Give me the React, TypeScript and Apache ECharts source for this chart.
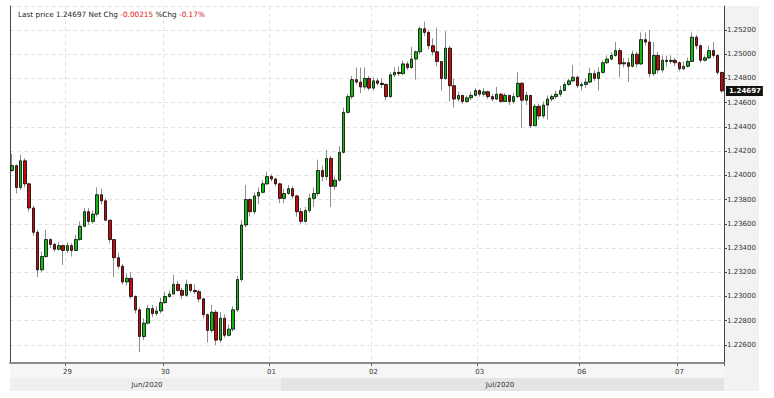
import React, { useEffect, useRef } from "react";
import * as echarts from "echarts";

// sessions: [day label, number of hourly bars]
const sessions: [string, number][] = [
  ["28", 13], ["29", 23], ["30", 25], ["01", 24], ["02", 25], ["03", 24], ["06", 23], ["07", 11],
];

const firstOpen = 1.2404;

const closes = [
  1.2408, 1.2390, 1.2412, 1.2393, 1.2373, 1.2353, 1.2322, 1.2333, 1.2347, 1.2343,
  1.2339, 1.2342, 1.2338, 1.2342, 1.2338, 1.2347, 1.2358, 1.2370, 1.2362, 1.2368,
  1.2384, 1.2379, 1.2363, 1.2347, 1.2332, 1.2325, 1.2312, 1.2315, 1.2300, 1.2289,
  1.2267, 1.2278, 1.2290, 1.2286, 1.2288, 1.2295, 1.2300, 1.2302, 1.2310, 1.2305,
  1.2301, 1.2310, 1.2305, 1.2304, 1.2298, 1.2285, 1.2272, 1.2287, 1.2264, 1.2282,
  1.2268, 1.2273, 1.2289, 1.2314, 1.2359, 1.2380, 1.2370, 1.2383, 1.2386, 1.2393,
  1.2399, 1.2397, 1.2393, 1.2381, 1.2385, 1.2389, 1.2383, 1.2370, 1.2362, 1.2371,
  1.2381, 1.2385, 1.2404, 1.2399, 1.2414, 1.2391, 1.2396, 1.2419, 1.2452, 1.2465,
  1.2479, 1.2477, 1.2473, 1.2480, 1.2472, 1.2478, 1.2476, 1.2475, 1.2465, 1.2483,
  1.2485, 1.2484, 1.2492, 1.2489, 1.2496, 1.2502, 1.2521, 1.2518, 1.2507, 1.2502,
  1.2494, 1.2480, 1.2505, 1.2474, 1.2463, 1.2466, 1.2461, 1.2464, 1.2466, 1.2470,
  1.2467, 1.2469, 1.2465, 1.2463, 1.2467, 1.2461, 1.2466, 1.2461, 1.2465, 1.2476,
  1.2462, 1.2466, 1.2441, 1.2457, 1.2449, 1.2458, 1.2463, 1.2465, 1.2467, 1.2470,
  1.2475, 1.2478, 1.2481, 1.2474, 1.2475, 1.2477, 1.2484, 1.2480, 1.2485, 1.2493,
  1.2496, 1.2499, 1.2503, 1.2492, 1.2493, 1.2490, 1.2500, 1.2492, 1.2512, 1.2510,
  1.2484, 1.2499, 1.2487, 1.2495, 1.2494, 1.2495, 1.2493, 1.2488, 1.2490, 1.2494,
  1.2514, 1.2507, 1.2495, 1.2497, 1.2503, 1.2499, 1.2485, 1.24697,
];

const highs = [
  1.2418, 1.2409, 1.2417, 1.2414, 1.2394, 1.2375, 1.2355, 1.2337, 1.2355, 1.2348,
  1.2344, 1.2345, 1.2343, 1.2345, 1.2344, 1.2351, 1.2362, 1.2373, 1.2373, 1.2371,
  1.2390, 1.2389, 1.2381, 1.2363, 1.2347, 1.2336, 1.2327, 1.2319, 1.2320, 1.2301,
  1.2291, 1.2282, 1.2293, 1.2293, 1.2292, 1.2299, 1.2304, 1.2305, 1.2318, 1.2313,
  1.2307, 1.2314, 1.2310, 1.2310, 1.2306, 1.2299, 1.2286, 1.2293, 1.2289, 1.2287,
  1.2285, 1.2277, 1.2292, 1.2317, 1.2363, 1.2392, 1.2381, 1.2386, 1.2390, 1.2396,
  1.2403, 1.2401, 1.2398, 1.2394, 1.2389, 1.2392, 1.2391, 1.2384, 1.2373, 1.2374,
  1.2385, 1.2390, 1.2413, 1.2408, 1.2421, 1.2416, 1.2399, 1.2424, 1.2456, 1.2467,
  1.2482, 1.2489, 1.2489, 1.2489, 1.2482, 1.2481, 1.2480, 1.2480, 1.2476, 1.2485,
  1.2489, 1.2490, 1.2495, 1.2494, 1.2506, 1.2503, 1.2523, 1.2527, 1.2520, 1.2513,
  1.2522, 1.2494, 1.2519, 1.2507, 1.2480, 1.2469, 1.2466, 1.2466, 1.2469, 1.2472,
  1.2471, 1.2472, 1.2470, 1.2467, 1.2473, 1.2468, 1.2468, 1.2466, 1.2468, 1.2485,
  1.2477, 1.2469, 1.2466, 1.2459, 1.2459, 1.2461, 1.2466, 1.2467, 1.2470, 1.2474,
  1.2477, 1.2480, 1.2491, 1.2482, 1.2477, 1.2480, 1.2489, 1.2487, 1.2489, 1.2495,
  1.2499, 1.2502, 1.2510, 1.2505, 1.2497, 1.2497, 1.2503, 1.2502, 1.2518, 1.2518,
  1.2520, 1.2510, 1.2502, 1.2499, 1.2499, 1.2499, 1.2497, 1.2494, 1.2494, 1.2497,
  1.2518, 1.2516, 1.2508, 1.2499, 1.2507, 1.2510, 1.2500, 1.2485,
];

const lows = [
  1.2403, 1.2385, 1.2388, 1.2390, 1.2370, 1.2350, 1.2316, 1.2320, 1.2332, 1.2340,
  1.2337, 1.2338, 1.2326, 1.2336, 1.2333, 1.2338, 1.2346, 1.2357, 1.2359, 1.2360,
  1.2366, 1.2376, 1.2362, 1.2344, 1.2316, 1.2323, 1.2310, 1.2309, 1.2298, 1.2286,
  1.2254, 1.2264, 1.2277, 1.2283, 1.2284, 1.2286, 1.2294, 1.2299, 1.2302, 1.2304,
  1.2298, 1.2300, 1.2303, 1.2302, 1.2295, 1.2282, 1.2262, 1.2270, 1.2260, 1.2262,
  1.2266, 1.2267, 1.2271, 1.2287, 1.2312, 1.2357, 1.2366, 1.2368, 1.2376, 1.2385,
  1.2392, 1.2395, 1.2391, 1.2377, 1.2377, 1.2384, 1.2381, 1.2366, 1.2360, 1.2361,
  1.2369, 1.2374, 1.2383, 1.2395, 1.2396, 1.2374, 1.2388, 1.2395, 1.2418, 1.2451,
  1.2463, 1.2475, 1.2468, 1.2471, 1.2470, 1.2470, 1.2474, 1.2472, 1.2462, 1.2464,
  1.2481, 1.2482, 1.2483, 1.2487, 1.2488, 1.2479, 1.2500, 1.2515, 1.2504, 1.2499,
  1.2490, 1.2470, 1.2479, 1.2461, 1.2456, 1.2461, 1.2459, 1.2460, 1.2462, 1.2465,
  1.2465, 1.2465, 1.2463, 1.2461, 1.2462, 1.2460, 1.2461, 1.2458, 1.2459, 1.2464,
  1.2439, 1.2458, 1.2439, 1.2441, 1.2446, 1.2447, 1.2446, 1.2461, 1.2463, 1.2465,
  1.2470, 1.2474, 1.2477, 1.2472, 1.2470, 1.2472, 1.2476, 1.2478, 1.2470, 1.2484,
  1.2492, 1.2495, 1.2498, 1.2481, 1.2489, 1.2477, 1.2489, 1.2489, 1.2491, 1.2507,
  1.2481, 1.2482, 1.2484, 1.2485, 1.2490, 1.2492, 1.2490, 1.2486, 1.2487, 1.2489,
  1.2494, 1.2504, 1.2493, 1.2494, 1.2496, 1.2497, 1.2483, 1.2468,
];

const yMin = 1.22451;
const yMax = 1.25398;
const yLabelStep = 0.002;

const lastPrice = 1.24697;
const netChg = "-0.00215";
const pctChg = "-0.17%";
const monthLabels = ["Jun/2020", "Jul/2020"];

const UP = "#14b814";
const DOWN = "#c40a0a";
const WICK = "#8e8e8e";
const FONT = "DejaVu Sans";

// build categories
const categories: string[] = [];
sessions.forEach(([day, n], si) => {
  const start = si === 0 ? 24 - n : 0;
  for (let k = 0; k < n; k++) {
    categories.push(`${day} ${String(start + k).padStart(2, "0")}:00`);
  }
});
const isDayStart = (idx: number) => idx > 0 && !!categories[idx] && categories[idx].endsWith(" 00:00");

const opens = closes.map((c, i) => (i === 0 ? firstOpen : closes[i - 1]));
const wickData = closes.map((c, i) => {
  const o = opens[i];
  return [o, c, Math.min(lows[i], o, c), Math.max(highs[i], o, c)];
});
const bodyData = closes.map((c, i) => {
  const o = opens[i];
  return [o, c, Math.min(o, c), Math.max(o, c)];
});

export default function App() {
  const ref = useRef<HTMLDivElement>(null);
  useEffect(() => {
    if (!ref.current) return;
    const chart = echarts.init(ref.current, null, { renderer: "svg" });
    const dayInterval = (idx: number) => isDayStart(idx);
    const option: any = {
      animation: false,
      backgroundColor: "#ffffff",
      textStyle: { fontFamily: FONT },
      grid: { left: 10, right: 50, top: 6, bottom: 35 },
      xAxis: {
        type: "category",
        data: categories,
        boundaryGap: true,
        axisLine: { show: true, lineStyle: { color: "#8a8a8a", width: 2 } },
        axisTick: { show: true, interval: dayInterval, length: 3, lineStyle: { color: "#666" } },
        axisLabel: {
          interval: dayInterval,
          formatter: (v: string) => v.slice(0, 2),
          fontSize: 7,
          color: "#333",
          margin: 5,
          fontFamily: FONT,
        },
        splitLine: { show: true, interval: dayInterval, lineStyle: { color: "#e3e3e3", type: [4, 3] } },
      },
      yAxis: [
        {
          type: "value",
          position: "right",
          min: yMin,
          max: yMax,
          splitNumber: 14,
          axisLine: { show: true, lineStyle: { color: "#444" } },
          axisTick: { show: true, length: 3, lineStyle: { color: "#444" } },
          axisLabel: {
            fontSize: 7,
            color: "#333",
            margin: 3,
            fontFamily: FONT,
            showMinLabel: false,
            showMaxLabel: false,
            formatter: (v: number) => {
              const r = v / yLabelStep;
              return Math.abs(r - Math.round(r)) < 1e-6 ? v.toFixed(5) : "";
            },
          },
          splitLine: { show: true, lineStyle: { color: "#e3e3e3", type: [4, 3] } },
        },
        {
          type: "value",
          position: "left",
          min: yMin,
          max: yMax,
          axisLine: { show: true, onZero: false, lineStyle: { color: "#444" } },
          axisTick: { show: false },
          axisLabel: { show: false },
          splitLine: { show: false },
        },
      ],
      series: [
        {
          type: "candlestick",
          name: "wick",
          data: wickData,
          barWidth: 0.5,
          itemStyle: { color: WICK, color0: WICK, borderColor: WICK, borderColor0: WICK, borderColorDoji: WICK, borderWidth: 1 },
          silent: true,
        },
        {
          type: "candlestick",
          name: "body",
          data: bodyData,
          barWidth: 3,
          itemStyle: { color: UP, color0: DOWN, borderColor: "#000", borderColor0: "#000", borderColorDoji: "#000", borderWidth: 0.8 },
          silent: true,
          markLine: {
            silent: true,
            precision: 5,
            symbol: ["none", "none"],
            data: [{ yAxis: lastPrice }],
            lineStyle: { color: "rgba(0,0,0,0)", width: 0 },
            label: {
              show: true,
              position: "end",
              distance: 2,
              formatter: lastPrice.toFixed(5),
              color: "#fff",
              backgroundColor: "#111",
              fontSize: 7,
              fontWeight: "bold",
              fontFamily: FONT,
              padding: [2, 2, 1, 3],
            },
          },
        },
      ],
      graphic: [
        { type: "rect", z: -10, shape: { x: 724, y: 6, width: 35, height: 385 }, style: { fill: "#f2f2f2" } },
        { type: "rect", z: -10, shape: { x: 10, y: 364, width: 714, height: 14 }, style: { fill: "#f6f6f6" } },
        { type: "rect", z: -10, shape: { x: 10, y: 378, width: 271, height: 13 }, style: { fill: "#efefef" } },
        { type: "rect", z: -10, shape: { x: 281, y: 378, width: 443, height: 13 }, style: { fill: "#e4e4e4" } },
        {
          type: "text",
          x: 147,
          y: 385,
          z: 10,
          style: { text: monthLabels[0], fill: "#333", font: `7px '${FONT}'`, textAlign: "center", textVerticalAlign: "middle" },
        },
        {
          type: "text",
          x: 500,
          y: 385,
          z: 10,
          style: { text: monthLabels[1], fill: "#333", font: `7px '${FONT}'`, textAlign: "center", textVerticalAlign: "middle" },
        },
        {
          type: "text",
          x: 18,
          y: 14,
          z: 10,
          style: {
            text: `{a|Last price ${lastPrice.toFixed(5)} Net Chg }{b|${netChg}}{a| %Chg }{b|${pctChg}}`,
            textVerticalAlign: "middle",
            rich: {
              a: { fill: "#222", fontSize: 7.3, fontFamily: FONT },
              b: { fill: "#e01010", fontSize: 7.3, fontFamily: FONT },
            },
          },
        },
      ],
    };
    chart.setOption(option);
    return () => chart.dispose();
  }, []);
  return <div ref={ref} style={{ position: "absolute", left: 0, top: 0, width: 774, height: 398 }} />;
}
